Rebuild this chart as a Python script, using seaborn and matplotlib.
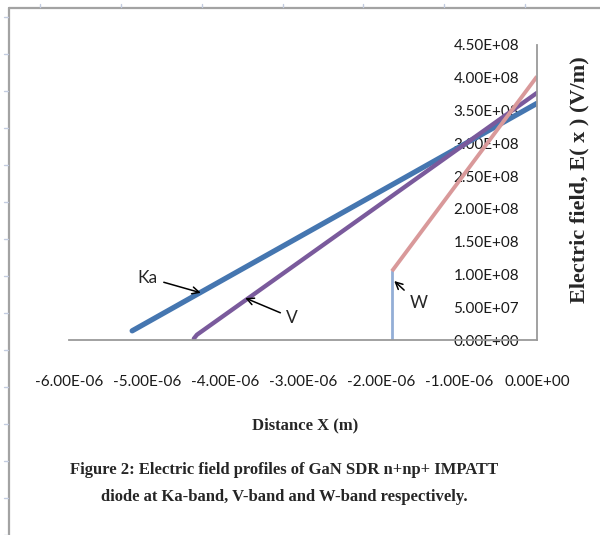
import matplotlib
matplotlib.use("Agg")
import matplotlib.pyplot as plt
from matplotlib.lines import Line2D
from matplotlib.ticker import FuncFormatter, MultipleLocator
import seaborn as sns

# Electric field profiles, E(x) in V/m versus distance x in m
ka_x = [-5.19e-6, 0.0]
ka_y = [1.4e7, 3.61e8]

v_x = [-4.40e-6, -4.36e-6, 0.0]
v_y = [2.0e6, 8.0e6, 3.77e8]

# W-band: depletion edge (vertical step) then the linear rise
w_edge_x = [-1.86e-6, -1.86e-6]
w_edge_y = [0.0, 1.05e8]
w_x = [-1.86e-6, 0.0]
w_y = [1.05e8, 4.02e8]

x_ticks = [-6e-6, -5e-6, -4e-6, -3e-6, -2e-6, -1e-6, 0.0]

sns.set_theme(style="white")
plt.rcParams["font.family"] = ["Lato", "DejaVu Sans"]

W_PX, H_PX = 600, 535
fig = plt.figure(figsize=(W_PX / 100, H_PX / 100), dpi=100)
fig.patch.set_facecolor("white")

ax = fig.add_axes([69 / W_PX, 1 - 340 / H_PX, (537 - 69) / W_PX, 295 / H_PX])
ax.set_facecolor("white")

sns.lineplot(x=ka_x, y=ka_y, ax=ax, color="#4576B0", lw=3.8, sort=False,
             estimator=None, solid_capstyle="round")
sns.lineplot(x=v_x, y=v_y, ax=ax, color="#7A5A9C", lw=3.1, sort=False,
             estimator=None, solid_capstyle="round")
sns.lineplot(x=w_edge_x, y=w_edge_y, ax=ax, color="#93AED6", lw=2.0,
             sort=False, estimator=None)
sns.lineplot(x=w_x, y=w_y, ax=ax, color="#D9999A", lw=2.8, sort=False,
             estimator=None, solid_capstyle="butt")

ax.set_xlim(-6e-6, 0)
ax.set_ylim(0, 4.5e8)
ax.set_xticks(x_ticks)
ax.yaxis.set_major_locator(MultipleLocator(5e7))
fmt = FuncFormatter(lambda v, _: "{:.2E}".format(0.0 if abs(v) < 1e-20 else v))
ax.xaxis.set_major_formatter(fmt)
ax.yaxis.set_major_formatter(fmt)

for s in ("top", "right"):
    ax.spines[s].set_visible(False)
ax.spines["left"].set_position(("data", 0))
for s in ("left", "bottom"):
    ax.spines[s].set_color("#9A9A9A")
    ax.spines[s].set_linewidth(1.3)

ax.tick_params(axis="y", length=0, pad=13, labelsize=11, labelcolor="#1a1a1a")
ax.tick_params(axis="x", length=0, pad=25, labelsize=11, labelcolor="#1a1a1a")
ax.set_xlabel("")
ax.set_ylabel("")

# band labels with pointers
arrow = dict(arrowstyle="->", color="black", lw=1.1, shrinkA=2, shrinkB=0)
ax.annotate("Ka", xy=(-4.31e-6, 7.2e7), xytext=(-4.99e-6, 9.5e7),
            fontsize=12.5, ha="center", va="center", arrowprops=arrow)
ax.annotate("V", xy=(-3.74e-6, 6.4e7), xytext=(-3.14e-6, 3.4e7),
            fontsize=12.5, ha="center", va="center", arrowprops=arrow)
ax.annotate("W", xy=(-1.83e-6, 9.0e7), xytext=(-1.52e-6, 5.6e7),
            fontsize=12.5, ha="center", va="center", arrowprops=arrow)

serif = ["Liberation Serif", "DejaVu Serif"]
fig.text(579 / W_PX, 1 - 180 / H_PX, "Electric field, E( x ) (V/m)",
         rotation=90, ha="center", va="center", fontsize=16,
         fontweight="bold", family=serif)
fig.text(305 / W_PX, 1 - 425 / H_PX, "Distance X (m)", ha="center",
         va="center", fontsize=12, fontweight="bold", family=serif)
fig.text(284 / W_PX, 1 - 470 / H_PX,
         "Figure 2: Electric field profiles of GaN SDR n+np+ IMPATT",
         ha="center", va="center", fontsize=12, fontweight="bold", family=serif)
fig.text(284 / W_PX, 1 - 497 / H_PX,
         "diode at Ka-band, V-band and W-band respectively.",
         ha="center", va="center", fontsize=12, fontweight="bold", family=serif)

# page frame and ruler marks around the figure
def fx(px):
    return px / W_PX

def fy(py):
    return 1 - py / H_PX

fig.add_artist(Line2D([fx(9), fx(600)], [fy(8), fy(8)], color="#A3A3A3", lw=1.6))
fig.add_artist(Line2D([fx(9), fx(9)], [fy(8), fy(535)], color="#A3A3A3", lw=1.6))
for tx in [40, 121, 202, 283, 363, 444, 525]:
    fig.add_artist(Line2D([fx(tx), fx(tx)], [fy(4), fy(7)], color="#C3CCE0", lw=1))
for k in range(15):
    ty = 17 + 37 * k
    fig.add_artist(Line2D([fx(4), fx(8)], [fy(ty), fy(ty)], color="#C3CCE0", lw=1))

fig.savefig("out.png", dpi=100, facecolor="white")
